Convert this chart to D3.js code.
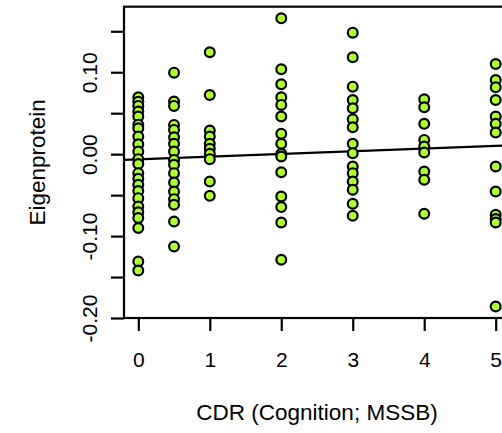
<!DOCTYPE html>
<html>
<head>
<meta charset="utf-8">
<script src="https://cdn.jsdelivr.net/npm/d3@7"></script>
<style>
  body { margin: 0; background: #fff; }
  text { font-family: "Liberation Sans", Arial, sans-serif; fill: #000; }
</style>
</head>
<body>
<div id="chart"></div>
<script>
// CDR levels and eigenprotein values, one array per level
const cdr0 = [0.0695, 0.064, 0.0589, 0.052, 0.0459, 0.036, 0.0317, 0.0215, 0.012, 0.0032,
  -0.0061, -0.012, -0.0232, -0.030, -0.0374, -0.045, -0.0537, -0.0639, -0.071, -0.078,
  -0.0902, -0.131, -0.142];
const cdr05 = [0.0995, 0.0642, 0.0589, 0.0357, 0.0296, 0.0207, 0.0126, 0.0032, -0.007,
  -0.013, -0.0232, -0.0346, -0.0456, -0.0549, -0.0618, -0.0822, -0.1127];
const cdr1 = [0.1244, 0.0723, 0.0288, 0.0215, 0.0126, 0.0065, 0.0004, -0.0061, -0.0334, -0.0509];
const cdr2 = [0.1658, 0.1037, 0.0854, 0.0695, 0.0601, 0.0459, 0.0248, 0.0126, 0.0004,
  -0.0029, -0.022, -0.0517, -0.0646, -0.0834, -0.1289];
const cdr3 = [0.1483, 0.1183, 0.0824, 0.0662, 0.0561, 0.0427, 0.0329, 0.0126, 0.0012,
  -0.0151, -0.0232, -0.0334, -0.0435, -0.0606, -0.0752];
const cdr4 = [0.067, 0.0573, 0.037, 0.0174, 0.0093, 0.002, -0.0212, -0.0313, -0.0728];
const cdr5 = [0.1101, 0.0906, 0.0817, 0.0662, 0.0459, 0.037, 0.0263, -0.0151, -0.0456,
  -0.074, -0.0793, -0.0834, -0.1859];

const levels = [0, 0.5, 1, 2, 3, 4, 5];
const groups = [cdr0, cdr05, cdr1, cdr2, cdr3, cdr4, cdr5];

const xTicks = [0, 1, 2, 3, 4, 5];
const yTicks = [-0.2, -0.15, -0.1, -0.05, 0, 0.05, 0.1, 0.15];
const yLabelled = ["-0.20", "-0.10", "0.00", "0.10"];

// fitted line (intercept, slope)
const fit = [-0.0063, 0.0033];

const points = [];
groups.forEach((g, i) => g.forEach((v) => points.push({ x: levels[i], y: v })));

const width = 502, height = 433;
const plot = { left: 124, right: 510, top: 6.7, bottom: 318 };

const svg = d3.select("#chart").append("svg")
  .attr("width", width).attr("height", height);

const x = d3.scaleLinear().domain([-0.2, 5.2]).range([plot.left, plot.right]);
const y = d3.scaleLinear().domain([-0.2, 0.18]).range([plot.bottom, plot.top]);

// plain hyphen minus, like R
const fmt = (d) => d3.format(".2f")(d).replace("\u2212", "-");

// x axis
const xAxis = svg.append("g")
  .attr("transform", `translate(0,${plot.bottom})`)
  .call(d3.axisBottom(x).tickValues(xTicks).tickSize(13).tickFormat(d3.format("d")));
xAxis.select(".domain").remove();
xAxis.selectAll("line").attr("stroke", "#000").attr("stroke-width", 2.2);
xAxis.selectAll("text")
  .attr("y", 42).attr("dy", "0.35em")
  .style("font-size", "21px");

// y axis, rotated labels like R
const yAxis = svg.append("g")
  .attr("transform", `translate(${plot.left},0)`)
  .call(d3.axisLeft(y).tickValues(yTicks).tickSize(13)
    .tickFormat((d) => { const s = fmt(d); return yLabelled.includes(s) ? s : ""; }));
yAxis.select(".domain").remove();
yAxis.selectAll("line").attr("stroke", "#000").attr("stroke-width", 2.2);
yAxis.selectAll("text")
  .attr("transform", "rotate(-90)")
  .attr("x", 0).attr("y", -34).attr("dy", "0.35em")
  .attr("text-anchor", "middle")
  .style("font-size", "21px");

// regression line, clipped to the plot box
svg.append("clipPath").attr("id", "clip")
  .append("rect")
  .attr("x", plot.left).attr("y", plot.top)
  .attr("width", plot.right - plot.left).attr("height", plot.bottom - plot.top);

svg.append("line")
  .attr("clip-path", "url(#clip)")
  .attr("x1", x(-0.2)).attr("y1", y(fit[0] + fit[1] * -0.2))
  .attr("x2", x(5.2)).attr("y2", y(fit[0] + fit[1] * 5.2))
  .attr("stroke", "#000").attr("stroke-width", 2.2);

// points
svg.append("g").selectAll("circle")
  .data(points)
  .join("circle")
  .attr("cx", (d) => x(d.x))
  .attr("cy", (d) => y(d.y))
  .attr("r", 4.9)
  .attr("fill", "#adff2f")
  .attr("stroke", "#000")
  .attr("stroke-width", 2.2);

// box
svg.append("rect")
  .attr("x", plot.left).attr("y", plot.top)
  .attr("width", plot.right - plot.left).attr("height", plot.bottom - plot.top)
  .attr("fill", "none").attr("stroke", "#000").attr("stroke-width", 2.2);

// axis titles
svg.append("text")
  .attr("x", (plot.left + plot.right) / 2).attr("y", 412).attr("dy", "0.35em")
  .attr("text-anchor", "middle").style("font-size", "22.5px")
  .text("CDR (Cognition; MSSB)");

svg.append("text")
  .attr("transform", `translate(37,${(plot.top + plot.bottom) / 2}) rotate(-90)`)
  .attr("dy", "0.35em")
  .attr("text-anchor", "middle").style("font-size", "22.5px")
  .text("Eigenprotein");
</script>
</body>
</html>
